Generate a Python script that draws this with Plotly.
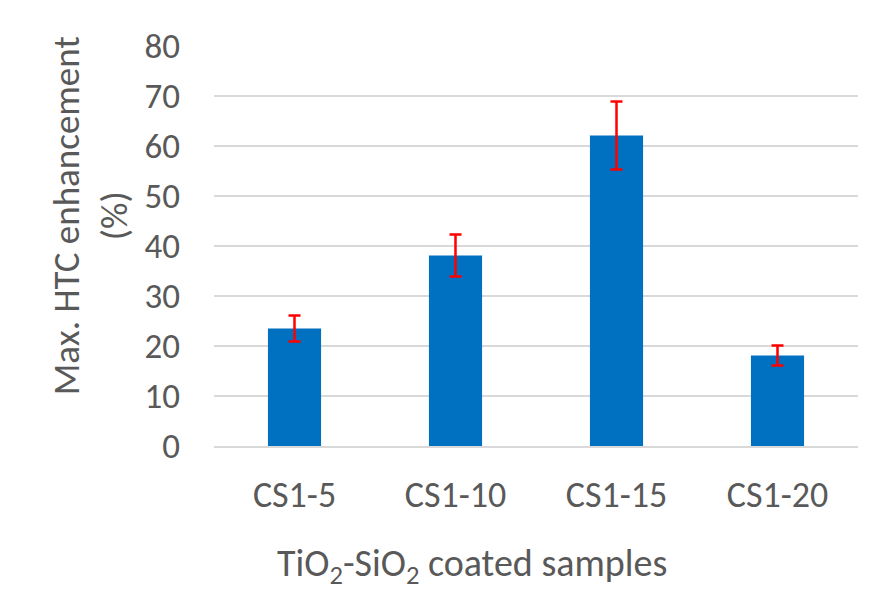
import plotly.graph_objects as go

# Samples and their maximum heat-transfer-coefficient enhancement
samples = ["CS1-5", "CS1-10", "CS1-15", "CS1-20"]
enhancement = [23.5, 38.1, 62.1, 18.1]
error = [2.6, 4.2, 6.8, 2.0]
y_ticks = [0, 10, 20, 30, 40, 50, 60, 70, 80]

FONT = "Carlito, Lato, sans-serif"
TEXT = "#595959"
GRID = "#d9d9d9"
SIZE = 35

fig = go.Figure(
    go.Bar(
        x=samples,
        y=enhancement,
        marker=dict(color="#0070c0", line=dict(width=0)),
        error_y=dict(type="data", array=error, visible=True,
                     color="#ff0000", thickness=2.5, width=6),
    )
)

fig.update_layout(
    width=876,
    height=595,
    margin=dict(l=214, r=18, t=46, b=149),
    paper_bgcolor="white",
    plot_bgcolor="white",
    bargap=0.67,
    showlegend=False,
    font=dict(family=FONT, color=TEXT, size=SIZE),
    xaxis=dict(
        showgrid=False,
        showline=True,
        linecolor=GRID,
        linewidth=1.5,
        ticks="",
        tickfont=dict(size=36, color=TEXT),
        ticklabelstandoff=16,
    ),
    yaxis=dict(
        range=[0, 80],
        tickvals=y_ticks,
        showgrid=True,
        gridcolor=GRID,
        gridwidth=1.5,
        zeroline=False,
        showline=False,
        ticks="",
        tickfont=dict(size=SIZE, color=TEXT),
        ticklabelstandoff=33,
    ),
    annotations=[
        dict(
            text="Max. HTC enhancement<br>(%)",
            textangle=-90,
            xref="paper", yref="paper",
            x=-0.192, y=0.575,
            xanchor="center", yanchor="middle",
            showarrow=False,
            font=dict(family=FONT, size=37, color=TEXT),
        ),
        dict(
            text="TiO<sub>2</sub>-SiO<sub>2</sub> coated samples",
            xref="paper", yref="paper",
            x=0.40, y=-0.2975,
            xanchor="center", yanchor="middle",
            showarrow=False,
            font=dict(family=FONT, size=38, color=TEXT),
        ),
    ],
)

fig.write_html("out.html")
